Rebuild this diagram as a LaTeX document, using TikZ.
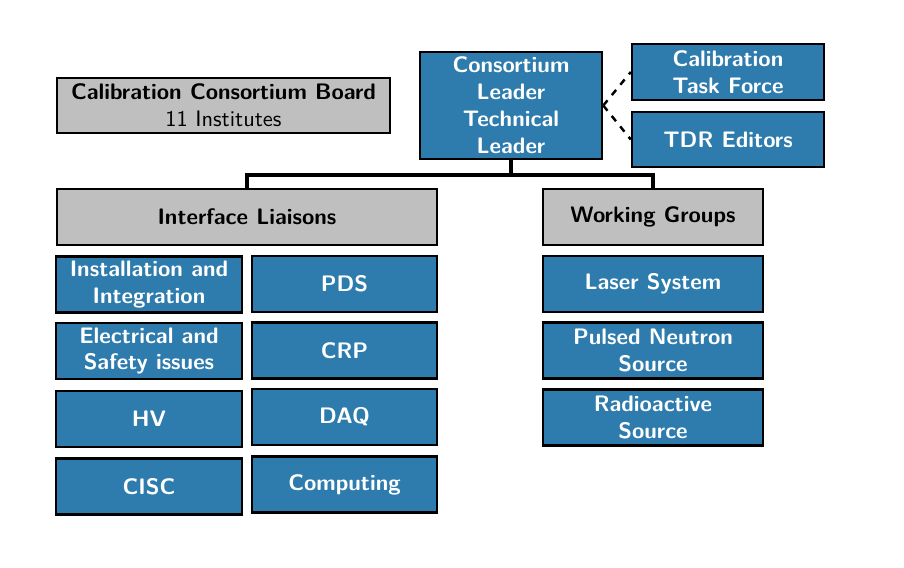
\documentclass[tikz,border=0pt]{standalone}
\usepackage{xcolor}
\usepackage{tikz}
\definecolor{calibblue}{RGB}{46, 124, 173}
\definecolor{calibgray}{RGB}{191, 191, 191}

\begin{document}
\begin{tikzpicture}[x=0.446pt, y=-0.446pt,
  bluebox/.style={draw=black, line width=1.1pt, fill=calibblue, text=white, font=\sffamily\bfseries, align=center, inner sep=1pt, minimum height=25pt},
  graybox/.style={draw=black, line width=1.1pt, fill=calibgray, text=black, font=\sffamily\bfseries, align=center, inner sep=1pt, minimum height=25pt},
  treeline/.style={draw=black, line width=1.7pt},
  dashline/.style={draw=black, line width=1.1pt, dashed}]
\useasboundingbox (0,0) rectangle (904,568);

% top row
\node[graybox, minimum width=148.5pt, minimum height=24.5pt] (board) at (223.5,105.5) {Calibration Consortium Board\\\mdseries 11 Institutes};
\node[bluebox, minimum width=81.2pt, minimum height=47.7pt] (leader) at (511,105.5) {Consortium\\Leader\\Technical\\Leader};
\node[bluebox, minimum width=85.6pt] (taskforce) at (728,72) {Calibration\\Task Force};
\node[bluebox, minimum width=85.6pt, minimum height=24.5pt] (tdr) at (728,139.5) {TDR Editors};

% second row
\node[graybox, minimum width=169.5pt] (liaisons) at (247,217) {Interface Liaisons};
\node[graybox, minimum width=98.1pt] (groups) at (653,217) {Working Groups};

% interface liaisons
\node[bluebox, minimum width=83pt] (install) at (149,284.5) {Installation and\\Integration};
\node[bluebox, minimum width=83pt] (safety) at (149,351) {Electrical and\\Safety issues};
\node[bluebox, minimum width=83pt] (hv) at (149,419) {HV};
\node[bluebox, minimum width=83pt] (cisc) at (149,486.5) {CISC};
\node[bluebox, minimum width=82.5pt] (pds) at (344.5,284) {PDS};
\node[bluebox, minimum width=82.5pt] (crp) at (344.5,350.5) {CRP};
\node[bluebox, minimum width=82.5pt] (daq) at (344.5,417) {DAQ};
\node[bluebox, minimum width=82.5pt] (computing) at (344.5,484.5) {Computing};

% working groups
\node[bluebox, minimum width=98.1pt] (laser) at (653,284) {Laser System};
\node[bluebox, minimum width=98.1pt] (neutron) at (653,350.5) {Pulsed Neutron\\Source};
\node[bluebox, minimum width=98.1pt] (radio) at (653,417.5) {Radioactive\\Source};

% connectors
\coordinate (fork) at (511,175);
\draw[treeline] (leader.south) -- (fork);
\draw[treeline] (fork) -| (liaisons.north);
\draw[treeline] (fork) -| (groups.north);
\draw[dashline] (leader.east) -- (taskforce.west);
\draw[dashline] (leader.east) -- (tdr.west);
\end{tikzpicture}
\end{document}
